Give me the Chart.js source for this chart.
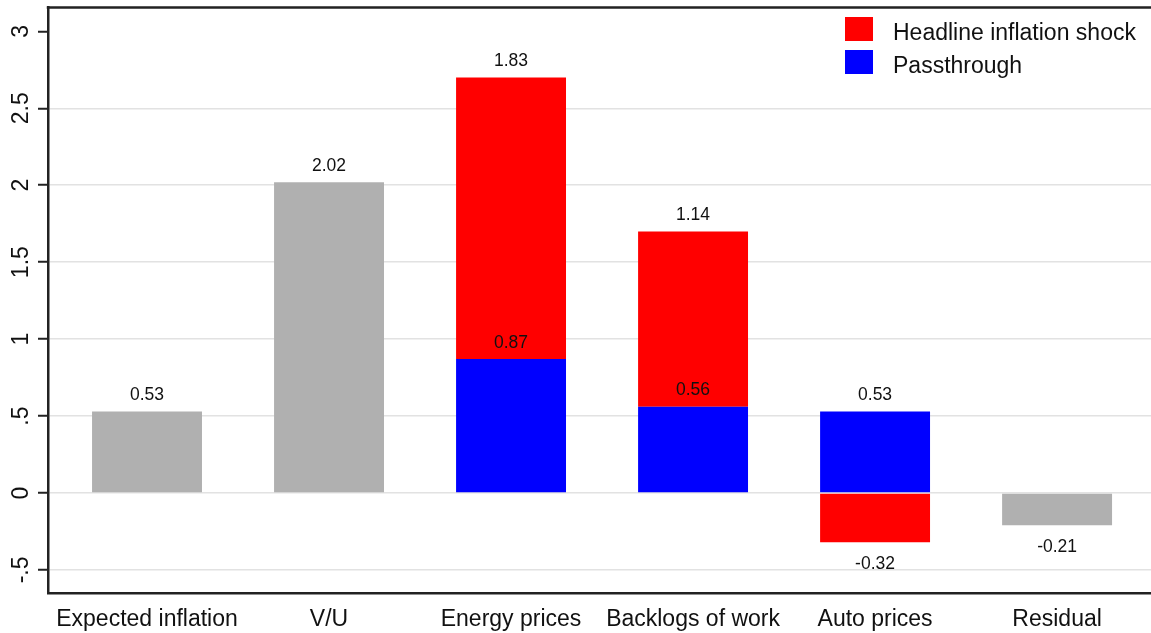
<!DOCTYPE html>
<html>
<head>
<meta charset="utf-8">
<script src="https://cdn.jsdelivr.net/npm/chart.js@4.4.1/dist/chart.umd.min.js"></script>
<style>
  html, body { margin: 0; padding: 0; background: #fff; overflow: hidden; }
  canvas { display: block; }
</style>
</head>
<body>
<canvas id="decompChart" width="1151" height="633"></canvas>
<script>
const categories = ['Expected inflation', 'V/U', 'Energy prices', 'Backlogs of work', 'Auto prices', 'Residual'];
const otherValues = [0.53, 2.02, null, null, null, -0.21];
const passthroughValues = [null, null, 0.87, 0.56, 0.53, null];
const headlineValues = [null, null, 1.83, 1.14, -0.32, null];
const yTickValues = [-0.5, 0, 0.5, 1, 1.5, 2, 2.5, 3];
const yTickLabels = ['-.5', '0', '.5', '1', '1.5', '2', '2.5', '3'];

const FONT = "'Liberation Sans', Arial, sans-serif";

function toPoints(values) {
  return values
    .map((v, i) => ({ x: i, y: v }))
    .filter(p => p.y !== null);
}

// value labels above positive segments, below negative ones
const valueLabels = {
  id: 'valueLabels',
  afterDatasetsDraw(chart) {
    const ctx = chart.ctx;
    ctx.save();
    ctx.font = '17.5px ' + FONT;
    ctx.fillStyle = '#111';
    ctx.textAlign = 'center';
    ctx.textBaseline = 'alphabetic';
    chart.data.datasets.forEach((ds, di) => {
      const meta = chart.getDatasetMeta(di);
      meta.data.forEach((bar, i) => {
        const v = ds.data[i].y;
        const text = v.toFixed(2);
        if (v >= 0) {
          ctx.fillText(text, bar.x, Math.min(bar.y, bar.base) - 11.5);
        } else {
          ctx.fillText(text, bar.x, Math.max(bar.y, bar.base) + 27);
        }
      });
    });
    ctx.restore();
  }
};

// rotated y tick labels, top border and legend box inside the plot
const frameAndLegend = {
  id: 'frameAndLegend',
  afterDraw(chart) {
    const ctx = chart.ctx;
    const area = chart.chartArea;
    const y = chart.scales.y;
    ctx.save();

    ctx.strokeStyle = '#222';
    ctx.lineWidth = 2.5;
    ctx.beginPath();
    ctx.moveTo(area.left - 1.25, area.top);
    ctx.lineTo(area.right, area.top);
    ctx.stroke();

    ctx.font = '23px ' + FONT;
    ctx.fillStyle = '#111';
    ctx.textAlign = 'center';
    ctx.textBaseline = 'alphabetic';
    yTickValues.forEach((v, i) => {
      ctx.save();
      ctx.translate(28, y.getPixelForValue(v));
      ctx.rotate(-Math.PI / 2);
      ctx.fillText(yTickLabels[i], 0, 0);
      ctx.restore();
    });

    const order = [2, 1]; // headline first, then passthrough
    order.forEach((di, row) => {
      const ds = chart.data.datasets[di];
      const top = 17 + row * 33;
      ctx.fillStyle = ds.backgroundColor;
      ctx.fillRect(845, top, 28, 24);
      ctx.fillStyle = '#111';
      ctx.textAlign = 'left';
      ctx.font = '23px ' + FONT;
      ctx.fillText(ds.label, 893, top + 22.5);
    });

    ctx.restore();
  }
};

new Chart(document.getElementById('decompChart'), {
  type: 'bar',
  data: {
    datasets: [
      {
        label: 'Other',
        data: toPoints(otherValues),
        backgroundColor: '#b0b0b0'
      },
      {
        label: 'Passthrough',
        data: toPoints(passthroughValues),
        backgroundColor: '#0000ff'
      },
      {
        label: 'Headline inflation shock',
        data: toPoints(headlineValues),
        backgroundColor: '#ff0000'
      }
    ]
  },
  options: {
    responsive: false,
    animation: false,
    layout: { padding: { top: 7.5, right: 0, bottom: 0, left: 0 } },
    datasets: {
      bar: { categoryPercentage: 1, barPercentage: 0.604, borderWidth: 0 }
    },
    plugins: {
      legend: { display: false },
      tooltip: { enabled: false }
    },
    scales: {
      x: {
        type: 'linear',
        stacked: true,
        offset: false,
        min: -0.544,
        max: 5.516,
        afterBuildTicks: scale => {
          scale.ticks = categories.map((c, i) => ({ value: i }));
        },
        afterFit: scale => { scale.height = 40; },
        grid: { display: false, offset: false },
        border: { display: true, color: '#222', width: 2.5 },
        ticks: {
          autoSkip: false,
          maxRotation: 0,
          minRotation: 0,
          padding: 5,
          color: '#111',
          font: { family: FONT, size: 23 },
          callback: v => categories[v] ?? ''
        }
      },
      y: {
        stacked: true,
        min: -0.65,
        max: 3.155,
        afterBuildTicks: scale => {
          scale.ticks = yTickValues.map(v => ({ value: v }));
        },
        afterFit: scale => { scale.width = 48; },
        border: { display: true, color: '#222', width: 2.5 },
        grid: {
          color: c => (c.tick && c.tick.value === 3) ? 'rgba(0,0,0,0)' : '#e2e2e2',
          lineWidth: 1.5,
          drawTicks: true,
          tickLength: 10,
          tickColor: '#222',
          tickWidth: 2
        },
        ticks: { display: false }
      }
    }
  },
  plugins: [valueLabels, frameAndLegend]
});
</script>
</body>
</html>
